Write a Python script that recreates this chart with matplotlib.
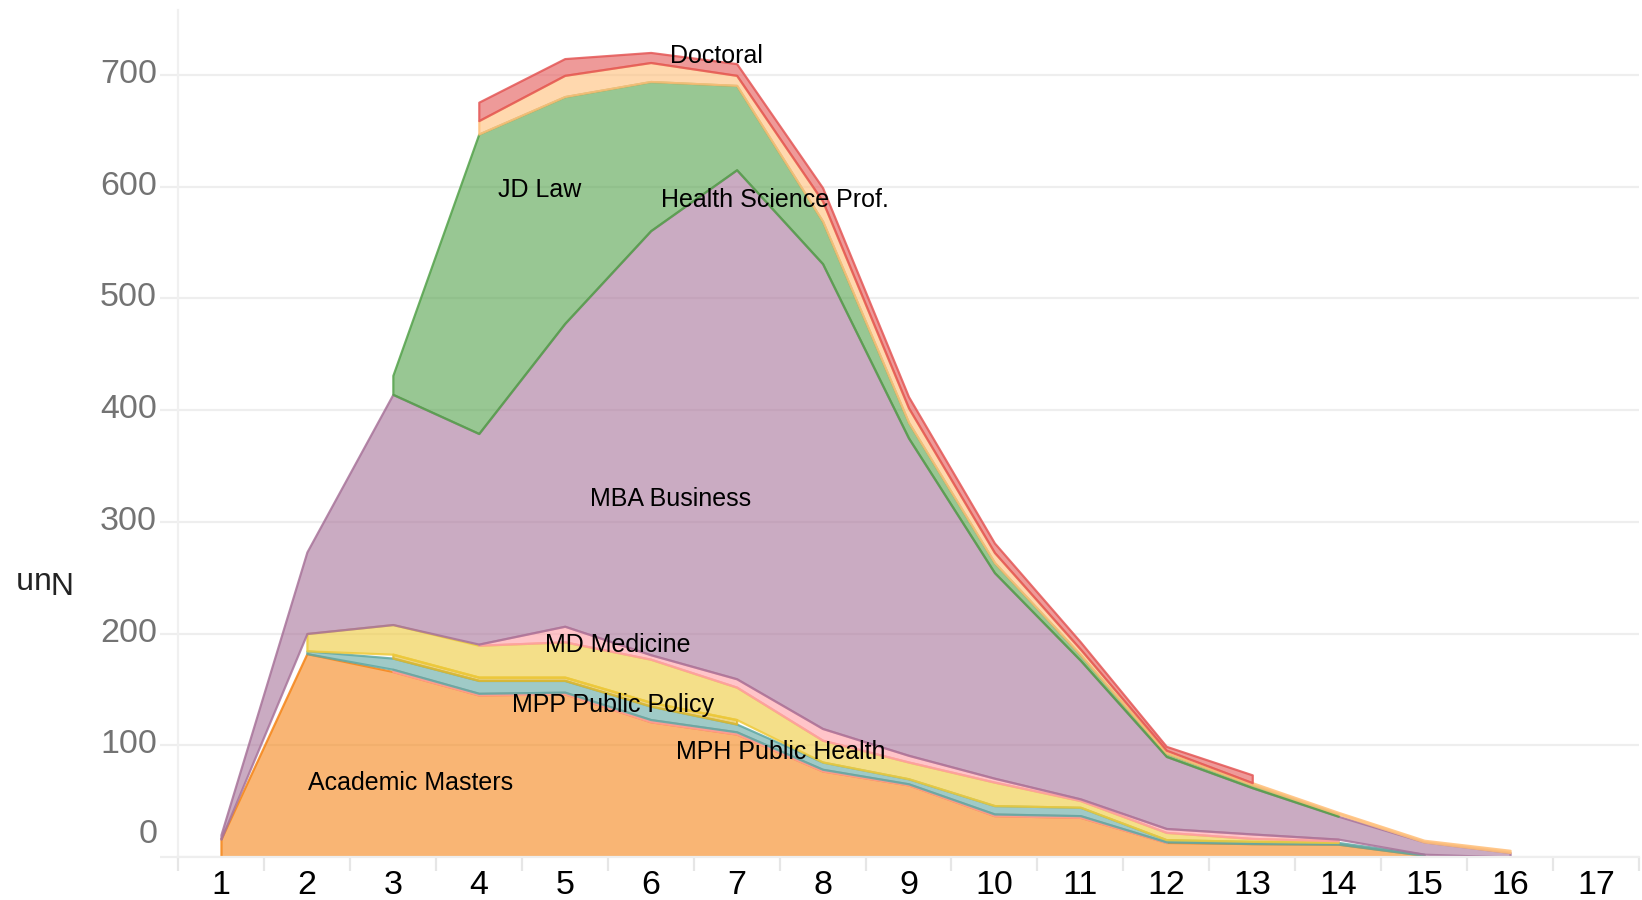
import numpy as np
import matplotlib
matplotlib.use("Agg")
import matplotlib.pyplot as plt
from matplotlib.transforms import ScaledTranslation

nan = np.nan
years = list(range(1, 17))
xtick_labels = [str(i) for i in range(1, 18)]
ytick_values = [0, 100, 200, 300, 400, 500, 600, 700]

# series, bottom to top (NaN = no record for that x)
academic_masters = [16, 182, 166, 145, 146, 121, 110, 77, 64.5, 37, 35.5, 13, 12, 11.5, 1.5, nan]
mph_public_health = [nan, nan, 2, 1.5, 1.5, 2, 2, 1.5, 1, 1.5, 1.5, 0.5, nan, nan, nan, nan]
mpp_public_policy = [nan, 2.5, 10, 11.5, 10.5, 12, 7, 6.5, 4.5, 7.5, 7.5, 2, 2, 1.5, 1, nan]
other_masters = [nan, nan, 3.5, 3, 3, 3.5, 4, nan, nan, nan, nan, nan, nan, nan, nan, nan]
ms_other = [nan, 15.5, 26.5, 28.5, 31.5, 38.5, 29, 19.5, 15, 21, 6, 6.5, 2.6, 1.5, nan, nan]
md_medicine = [nan, nan, nan, 1, 14, 4, 7.5, 10.5, 6, 3.5, 1.5, 3.5, 4, 1.5, nan, nan]
mba_business = [4, 73, 206, 188.5, 271, 379.5, 455.5, 416, 284, 184, 124, 64.5, 41.4, 20.5, 11, 4]
jd_law = [nan, nan, 17, 268, 203, 133.5, 75.5, 38, 14, 9, 5, 3, 2.5, 2, nan, nan]
health_science = [nan, nan, nan, 12, 19, 17, 9, 18, 13, 9, 5, 2.5, 2, 1.5, 1.5, 2]
doctoral = [nan, nan, nan, 16.5, 15, 9, 10.5, 12, 10, 8.5, 6.5, 3.5, 7, nan, nan, nan]

series = [
    ("Academic Masters", academic_masters, "#f58518"),
    ("MPH Public Health", mph_public_health, "#ff9d98"),
    ("MPP Public Policy", mpp_public_policy, "#5fa8a3"),
    ("Other Masters", other_masters, "#e3b92c"),
    ("MS Other", ms_other, "#eeca3b"),
    ("MD Medicine", md_medicine, "#ff9da6"),
    ("MBA Business", mba_business, "#a8749a"),
    ("JD Law", jd_law, "#54a24b"),
    ("Health Science Prof.", health_science, "#ffbf79"),
    ("Doctoral", doctoral, "#e45756"),
]

labels = [
    ("Doctoral", 6.76, 717),
    ("JD Law", 4.71, 597),
    ("Health Science Prof.", 7.45, 588),
    ("MBA Business", 6.23, 320),
    ("MD Medicine", 5.62, 190),
    ("MPP Public Policy", 5.56, 136),
    ("MPH Public Health", 7.51, 94),
    ("Academic Masters", 3.21, 66),
]

plt.rcParams['font.family'] = ['Liberation Sans', 'DejaVu Sans']

fig = plt.figure(figsize=(16.42, 9.0), dpi=100)
ax = fig.add_axes([178/1642, 1 - 857/900, (1639-178)/1642, (857-10)/900])

x = np.array(years, dtype=float)
cum = np.zeros(len(x))
for name, vals, col in series:
    v = np.array(vals, dtype=float)
    present = ~np.isnan(v)
    y0 = np.where(present, cum, nan)
    y1 = np.where(present, cum + np.nan_to_num(v), nan)
    cum = cum + np.nan_to_num(v)
    ax.fill_between(x, y0, y1, facecolor=matplotlib.colors.to_rgba(col, 0.6),
                    edgecolor=matplotlib.colors.to_rgba(col, 0.85), linewidth=1.6,
                    zorder=2)

for txt, lx, ly in labels:
    ax.text(lx, ly, txt, ha='center', va='center', fontsize=18, color='black', zorder=5)

ax.set_xlim(0.5, 17.5)
ax.set_ylim(0, 758)

ax.set_xticks(range(1, 18))
ax.set_xticklabels(xtick_labels)
ax.set_xticks(np.arange(0.5, 18, 1.0), minor=True)
ax.tick_params(axis='x', which='major', length=0, pad=9, labelsize=24.5, labelcolor='black')
ax.tick_params(axis='x', which='minor', length=10, width=1.6, color='#e6e6e6')

ax.set_yticks(ytick_values)
ax.set_yticklabels([str(v) for v in ytick_values])
ax.tick_params(axis='y', which='major', length=13, width=1.6, color='#eeeeee', pad=2,
               labelsize=24.5, labelcolor='#737373')
for i, lab in enumerate(ax.get_yticklabels()):
    dy = 26 if i == 0 else 4
    lab.set_transform(lab.get_transform() + ScaledTranslation(0, dy/100, fig.dpi_scale_trans))

ax.grid(axis='y', color='#eeeeee', linewidth=1.6, zorder=0)
ax.set_axisbelow(True)
for s in ['top', 'right']:
    ax.spines[s].set_visible(False)
ax.spines['left'].set_color('#f0f0f0')
ax.spines['left'].set_linewidth(1.6)
ax.spines['bottom'].set_color('#eeeeee')
ax.spines['bottom'].set_linewidth(1.6)

fig.text(40/1642, 1 - 579/900, "Nun", rotation=180, ha='center', va='center',
         fontsize=23, color='#222222')

fig.savefig("out.png", dpi=100)
